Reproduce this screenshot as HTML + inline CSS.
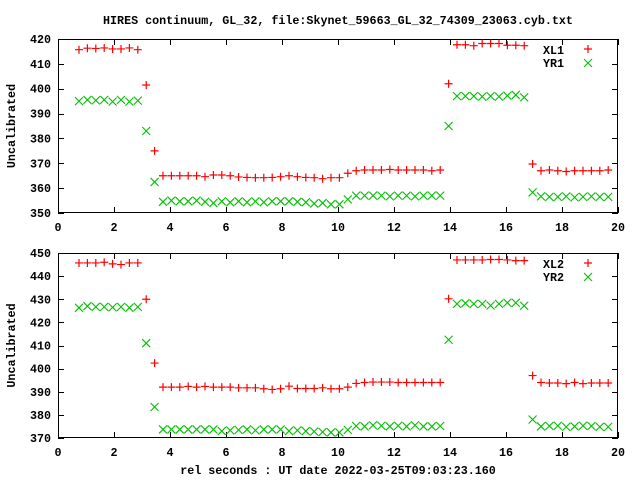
<!DOCTYPE html>
<html><head><meta charset="utf-8"><style>
body{margin:0;background:#fff}
svg text{font-family:"Liberation Mono","DejaVu Sans Mono",monospace;font-weight:bold;font-size:11.7px;fill:#000}
</style></head><body>
<svg id="c" width="640" height="480" viewBox="0 0 640 480" xmlns="http://www.w3.org/2000/svg">
<text x="338" y="24" text-anchor="middle">HIRES continuum, GL_32, file:Skynet_59663_GL_32_74309_23063.cyb.txt</text>
<text x="338" y="474" text-anchor="middle">rel seconds : UT date 2022-03-25T09:03:23.160</text>
</svg>
<script>
const xs=[0.75,1.05,1.35,1.65,1.95,2.25,2.55,2.85,3.15,3.45,3.75,4.05,4.35,4.65,4.95,5.25,5.55,5.85,6.15,6.45,6.75,7.05,7.35,7.65,7.95,8.25,8.55,8.85,9.15,9.45,9.75,10.05,10.35,10.65,10.95,11.25,11.55,11.85,12.15,12.45,12.75,13.05,13.35,13.65,13.95,14.25,14.55,14.85,15.15,15.45,15.75,16.05,16.35,16.65,16.95,17.25,17.55,17.85,18.15,18.45,18.75,19.05,19.35,19.65];
const xl1=[415.7,416.3,416.2,416.4,416,416,416.4,415.7,401.5,375,365,365,365,365,365,364.6,365.3,365.3,365,364.5,364.3,364.2,364.2,364.3,364.6,365,364.6,364.3,364.2,363.8,364.2,364.2,366,367,367.3,367.3,367.3,367.5,367.3,367.3,367.3,367.3,367,367.3,402,417.7,417.7,417.3,418.2,418.2,418.2,417.5,417.5,417.3,369.7,367,367.3,367,366.7,367,367,367,367,367.3];
const yr1=[395,395.5,395.3,395.5,394.8,395.5,394.8,395.2,383,362.5,354.5,355,354.7,354.7,355,354.5,354,354.7,354.3,354.7,354.3,354.7,354.3,354.7,354.7,354.7,354.5,354.3,353.8,354,353.5,353.5,355.5,357,357,357,357,356.7,357,357,356.7,357,357,357,385,397,397,397,396.8,397,396.8,397.2,397.5,396.5,358.3,356.7,356.5,356.5,356.7,356.3,356.5,356.7,356.5,356.5];
const xl2=[445.7,445.7,445.7,446,445.3,445,445.7,445.7,430,402.4,392,392,392,392.3,392,392.3,392,392,392,391.7,391.7,391.7,391.3,391,391.3,392.4,391.4,391.4,391.4,391.7,391.3,391.3,392,393.6,394,394.2,394.2,394.2,394,394,394,394,394,394,430.2,447,447,447,447,447.2,447.2,447,446.7,446.7,397,394,393.8,393.8,393.5,394,393.5,393.8,393.8,393.8];
const yr2=[426.3,427,426.7,426.7,426.5,426.7,426.3,426.7,411,383.4,373.7,373.7,373.7,373.7,373.7,373.7,373.7,373,373.3,373.5,373.7,373.3,373.7,373.7,373.7,373,373.3,373,372.8,372.6,372.4,372.4,373.5,375.2,375,375.5,375.3,375,375.3,375,375.5,375,375,375.2,412.5,428,428.3,428,428,427.3,428,428.5,428.5,427.2,378,375,375.2,375.3,374.8,375,375.3,375.2,374.8,374.8];
const xTicks=[0,2,4,6,8,10,12,14,16,18,20];
const y1Ticks=[350,360,370,380,390,400,410,420];
const y2Ticks=[370,380,390,400,410,420,430,440,450];
const NS="http://www.w3.org/2000/svg";
const svg=document.getElementById('c');
function mk(t,a,p){const e=document.createElementNS(NS,t);for(const k in a)e.setAttribute(k,a[k]);(p||svg).appendChild(e);return e;}
const L=58,R=618;
function sx(v){return L+(v-0)/(20-0)*(R-L);}
function panel(top,bot,ymin,ymax,yt,sA,sB,nA,nB,tag){
  const sy=v=>bot-(v-ymin)/(ymax-ymin)*(bot-top);
  const g=mk('g',{});
  
  
  const fr=mk('rect',{x:L+0.5,y:top+0.5,width:R-L-1,height:bot-top-1,fill:'none',stroke:'#000','stroke-width':1},g);
  
  
  xTicks.forEach(v=>{const x=Math.round(sx(v))+0.5;
    mk('line',{x1:x,x2:x,y1:bot,y2:bot-6,stroke:'#000'},g);
    mk('line',{x1:x,x2:x,y1:top,y2:top+6,stroke:'#000'},g);
    const t=mk('text',{x:sx(v),y:bot+18,'text-anchor':'middle'},g);t.textContent=v;
    
    });
  yt.forEach(v=>{const y=Math.round(sy(v))+0.5;
    mk('line',{x1:L,x2:L+6,y1:y,y2:y,stroke:'#000'},g);
    mk('line',{x1:R,x2:R-6,y1:y,y2:y,stroke:'#000'},g);
    const t=mk('text',{x:51,y:sy(v)+4,'text-anchor':'end'},g);t.textContent=v;
    
    });
  const cy=(top+bot)/2;
  const yl=mk('text',{x:15,y:cy,'text-anchor':'middle',transform:`rotate(-90 15 ${cy})`},g);yl.textContent='Uncalibrated';
  
  
  function plus(x,y,p){mk('path',{d:`M${x-4},${y}H${x+4}M${x},${y-4}V${y+4}`,stroke:'#ff0000','stroke-width':1.2,fill:'none'},p);}
  function cross(x,y,p){mk('path',{d:`M${x-4},${y-4}L${x+4},${y+4}M${x-4},${y+4}L${x+4},${y-4}`,stroke:'#00c000','stroke-width':1.1,fill:'none'},p);}
  const gA=mk('g',{},g);
  const gB=mk('g',{},g);
  xs.forEach((x,i)=>{cross(sx(x),sy(sB[i]),gB);});
  xs.forEach((x,i)=>{plus(sx(x),sy(sA[i]),gA);});
  const lg=mk('g',{},g);
  const t1=mk('text',{x:543,y:top+15},lg);t1.textContent=nA;
  const t2=mk('text',{x:543,y:top+28},lg);t2.textContent=nB;
  plus(588,top+10,lg);cross(588,top+24,lg);
}
panel(39,213,350,420,y1Ticks,xl1,yr1,'XL1','YR1','top');
panel(253,438,370,450,y2Ticks,xl2,yr2,'XL2','YR2','bottom');
</script>
</body></html>
